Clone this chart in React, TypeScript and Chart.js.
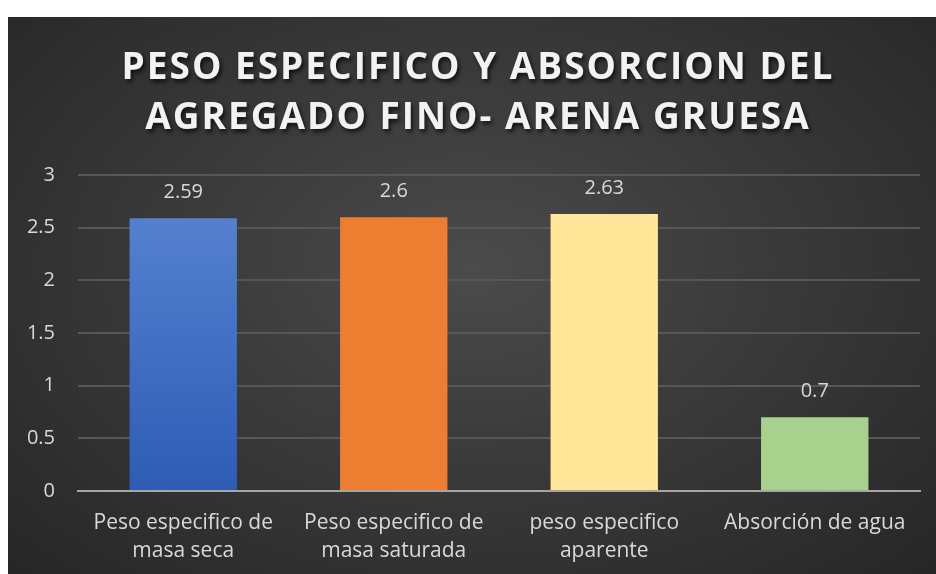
import React, { useEffect, useRef } from "react";
import { Chart, registerables } from "chart.js";

Chart.register(...registerables);

const TITLE_LINES = ["PESO ESPECIFICO Y ABSORCION DEL", "AGREGADO FINO- ARENA GRUESA"];
const CATEGORIES: string[][] = [
  ["Peso especifico de", "masa seca"],
  ["Peso especifico de", "masa saturada"],
  ["peso especifico", "aparente"],
  ["Absorción de agua"],
];
const VALUES = [2.59, 2.6, 2.63, 0.7];
const VALUE_LABELS = ["2.59", "2.6", "2.63", "0.7"];
const BAR_COLORS = ["#4a78cc", "#ed7d31", "#ffe699", "#a9d18e"];
const Y_MIN = 0;
const Y_MAX = 3;
const Y_STEP = 0.5;

const FONT = "'Open Sans', sans-serif";
const TEXT = "#d9d9d9";

export default function App() {
  const ref = useRef<HTMLCanvasElement | null>(null);

  useEffect(() => {
    if (!ref.current) return;

    const titlePlugin = {
      id: "shadowTitle",
      afterDraw(chart: any) {
        const ctx = chart.ctx;
        ctx.save();
        ctx.font = `bold 37px 'Open Sans', sans-serif`;
        (ctx as any).letterSpacing = "2px";
        ctx.textAlign = "center";
        ctx.textBaseline = "middle";
        ctx.fillStyle = "#f2f2f2";
        ctx.shadowColor = "rgba(0,0,0,0.7)";
        ctx.shadowBlur = 4;
        ctx.shadowOffsetX = 2;
        ctx.shadowOffsetY = 3;
        const cx = chart.width / 2 + 6;
        ctx.fillText(TITLE_LINES[0], cx, 51);
        ctx.fillText(TITLE_LINES[1], cx, 101);
        ctx.restore();
      },
    };

    const labelPlugin = {
      id: "valueLabels",
      afterDatasetsDraw(chart: any) {
        const ctx = chart.ctx;
        const meta = chart.getDatasetMeta(0);
        ctx.save();
        ctx.font = `20px ${FONT}`;
        ctx.fillStyle = TEXT;
        ctx.textAlign = "center";
        ctx.textBaseline = "middle";
        meta.data.forEach((bar: any, i: number) => {
          ctx.fillText(VALUE_LABELS[i], bar.x, bar.y - 26);
        });
        ctx.restore();
      },
    };

    const chart = new Chart(ref.current, {
      type: "bar",
      data: {
        labels: CATEGORIES,
        datasets: [
          {
            data: VALUES,
            backgroundColor: (c: any) => {
              const i = c.dataIndex;
              if (i === 0 && c.chart.chartArea) {
                const { top, bottom } = c.chart.chartArea;
                const g = c.chart.ctx.createLinearGradient(0, top, 0, bottom);
                g.addColorStop(0, "#5b86d3");
                g.addColorStop(1, "#2e5cb5");
                return g;
              }
              return BAR_COLORS[i];
            },
            borderWidth: 0,
            barPercentage: 0.51,
            categoryPercentage: 1,
          },
        ],
      },
      options: {
        animation: false,
        responsive: true,
        maintainAspectRatio: false,
        layout: { padding: { top: 158, left: 0, right: 16, bottom: 0 } },
        plugins: {
          legend: { display: false },
          title: { display: false },
          tooltip: { enabled: false },
        },
        scales: {
          x: {
            afterFit: (s: any) => {
              s.height = 83;
            },
            grid: { display: false, drawTicks: false },
            border: { display: true, color: "#a6a6a6", width: 2 },
            ticks: {
              color: TEXT,
              font: { family: FONT, size: 21, lineHeight: 1.33 },
              padding: 18,
              maxRotation: 0,
              autoSkip: false,
            },
          },
          y: {
            min: Y_MIN,
            max: Y_MAX,
            afterFit: (s: any) => {
              s.width = 70;
            },
            grid: {
              color: (c: any) => (c.tick && c.tick.value === 0 ? "rgba(0,0,0,0)" : "#575757"),
              lineWidth: 2,
              drawTicks: false,
            },
            border: { display: false },
            ticks: {
              stepSize: Y_STEP,
              color: TEXT,
              font: { family: FONT, size: 20 },
              padding: 23,
              callback: (v: any) => String(Number(v)),
            },
          },
        },
      },
      plugins: [titlePlugin, labelPlugin],
    });

    return () => chart.destroy();
  }, []);

  return (
    <div
      style={{
        position: "fixed",
        left: 8,
        top: 17,
        right: 0,
        bottom: 0,
        background: "radial-gradient(ellipse at 50% 45%, #4b4b4b 0%, #3a3a3a 45%, #262626 100%)",
      }}
    >
      <canvas ref={ref} />
    </div>
  );
}
